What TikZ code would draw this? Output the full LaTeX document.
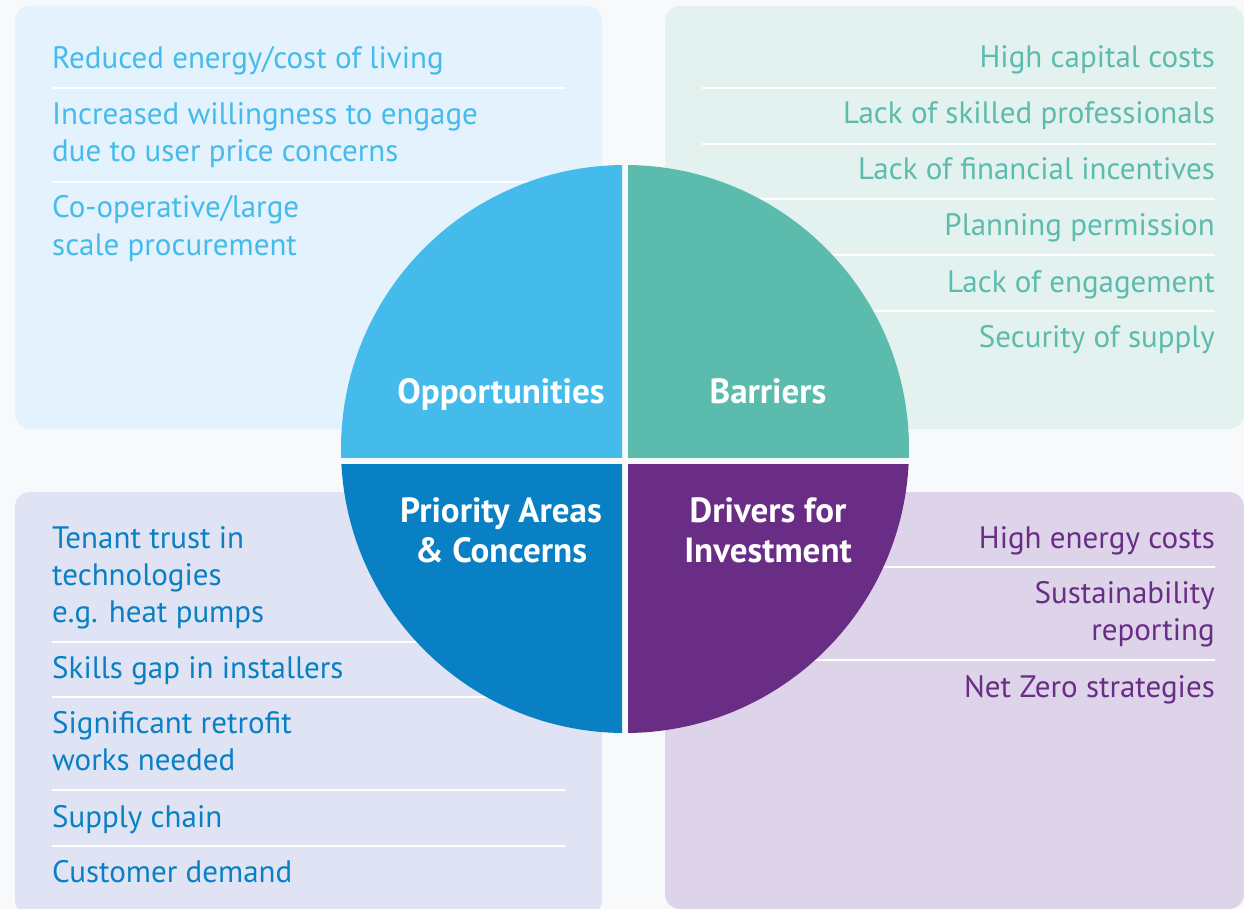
\documentclass[tikz,border=0pt]{standalone}
\usepackage{fontspec}
\setmainfont{PT Sans}
\definecolor{bgC}{HTML}{F7F9FB}
\definecolor{oppC}{HTML}{45BBEC}
\definecolor{barC}{HTML}{5BBCAD}
\definecolor{priC}{HTML}{0880C3}
\definecolor{drvC}{HTML}{6A2D86}
\definecolor{oppBox}{HTML}{E3F2FD}
\definecolor{barBox}{HTML}{E3F2EF}
\definecolor{priBox}{HTML}{DFE3F4}
\definecolor{drvBox}{HTML}{DDD4E9}
\begin{document}
\begin{tikzpicture}[x=1pt,y=-1pt,
  box/.style={rounded corners=15pt},
  sep/.style={white,line width=2pt},
  item/.style={inner sep=0pt,font=\fontsize{31}{37}\selectfont},
  li/.style={item,anchor=base west},
  ri/.style={item,anchor=base east},
  qlabel/.style={inner sep=0pt,anchor=base,text=white,font=\fontsize{35}{40}\selectfont\bfseries}]
\useasboundingbox (0,0) rectangle (1244,909);
\fill[bgC] (0,0) rectangle (1244,909);
% boxes
\fill[box,oppBox] (15,6) rectangle (602,429);
\fill[box,barBox] (665,6) rectangle (1244,429);
\fill[box,priBox] (15,492) rectangle (602,915);
\fill[box,drvBox] (665,492) rectangle (1244,909);
% separators
\foreach \y in {88,182} \draw[sep] (52,\y) -- (565,\y);
\foreach \y in {88,144,199,255,311} \draw[sep] (702,\y) -- (1215,\y);
\foreach \y in {642,697,790,846} \draw[sep] (52,\y) -- (565,\y);
\foreach \y in {567,660} \draw[sep] (702,\y) -- (1215,\y);
% opportunities items
\begin{scope}[text=oppC]
\node[li] (o1) at (52,69) {Reduced energy/cost of living};
\node[li] (o2a) at (52,125) {Increased willingness to engage};
\node[li] (o2b) at (52,162) {due to user price concerns};
\node[li] (o3a) at (52,218) {Co-operative/large};
\node[li] (o3b) at (52,255) {scale procurement};
\end{scope}
% barriers items
\begin{scope}[text=barC]
\node[ri] (b1) at (1215,68) {High capital costs};
\node[ri] (b2) at (1215,124) {Lack of skilled professionals};
\node[ri] (b3) at (1215,180) {Lack of financial incentives};
\node[ri] (b4) at (1215,236) {Planning permission};
\node[ri] (b5) at (1215,292) {Lack of engagement};
\node[ri] (b6) at (1215,347) {Security of supply};
\end{scope}
% priority items
\begin{scope}[text=priC]
\node[li] (p1a) at (52,548) {Tenant trust in};
\node[li] (p1b) at (52,585) {technologies};
\node[li] (p1c) at (52,622) {e.g. heat pumps};
\node[li] (p2) at (52,678) {Skills gap in installers};
\node[li] (p3a) at (52,733) {Significant retrofit};
\node[li] (p3b) at (52,770) {works needed};
\node[li] (p4) at (52,827) {Supply chain};
\node[li] (p5) at (52,882) {Customer demand};
\end{scope}
% drivers items
\begin{scope}[text=drvC]
\node[ri] (d1) at (1215,548) {High energy costs};
\node[ri] (d2a) at (1215,603) {Sustainability};
\node[ri] (d2b) at (1215,640) {reporting};
\node[ri] (d3) at (1215,697) {Net Zero strategies};
\end{scope}
% circle quadrants
\begin{scope}
\clip (300,100) rectangle (622,457);
\fill[oppC] (625,449) circle[radius=284pt];
\end{scope}
\begin{scope}
\clip (628,100) rectangle (950,457);
\fill[barC] (625,449) circle[radius=284pt];
\end{scope}
\begin{scope}
\clip (300,464) rectangle (622,800);
\fill[priC] (625,449) circle[radius=284pt];
\end{scope}
\begin{scope}
\clip (628,464) rectangle (950,800);
\fill[drvC] (625,449) circle[radius=284pt];
\end{scope}
% quadrant labels
\node[qlabel] (qo) at (501,403) {Opportunities};
\node[qlabel] (qb) at (768,403) {Barriers};
\node[qlabel] (qp1) at (501,522) {Priority Areas};
\node[qlabel] (qp2) at (501,562) {\& Concerns};
\node[qlabel] (qd1) at (768,522) {Drivers for};
\node[qlabel] (qd2) at (768,562) {Investment};
\end{tikzpicture}
\end{document}
